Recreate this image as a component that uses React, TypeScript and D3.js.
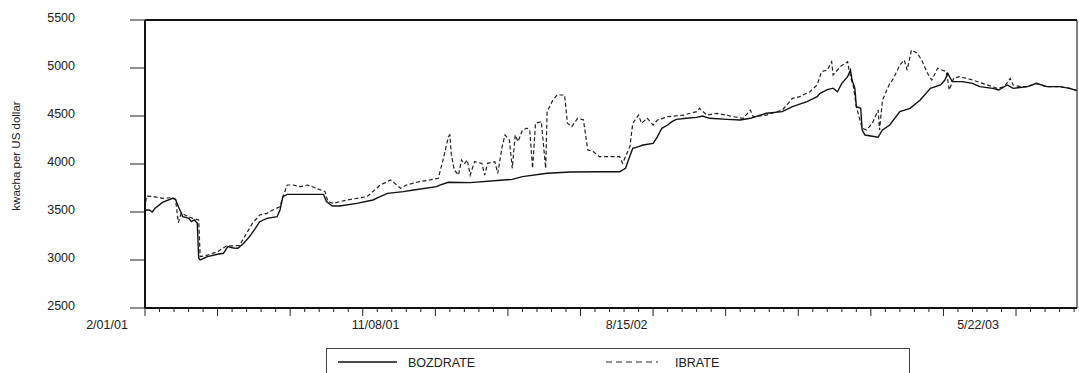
import React from "react";
import * as d3 from "d3";

// ---- data (observation index, value) ----
const bozObs = [0,1,3,5,7,12,19,21,23,25,26,30,32,34,36,37,38,43,50,54,57,61,64,68,72,76,79,84,91,93,95,98,123,125,129,134,146,157,162,167,178,185,201,203,209,224,247,253,260,277,293,313,327,331,333,336,340,343,350,353,356,360,363,366,373,380,384,389,401,410,417,428,439,446,456,463,465,470,474,477,480,484,486,487,489,490,493,494,496,505,508,513,520,527,534,541,548,551,553,556,563,570,575,584,588,594,598,608,614,621,630,637,642];
const bozValues = [3521,3521,3521,3500,3540,3600,3643,3632,3555,3490,3451,3437,3399,3417,3385,3018,3000,3035,3060,3070,3139,3125,3122,3174,3243,3330,3399,3434,3451,3521,3660,3684,3684,3608,3562,3562,3590,3625,3660,3694,3712,3729,3764,3781,3810,3806,3833,3840,3868,3903,3917,3920,3920,3955,4042,4163,4181,4198,4215,4285,4372,4406,4441,4465,4476,4486,4500,4476,4465,4458,4476,4528,4545,4597,4649,4701,4736,4775,4790,4753,4840,4910,4979,4875,4788,4597,4580,4354,4302,4278,4354,4406,4545,4580,4667,4788,4823,4875,4945,4858,4858,4840,4806,4788,4771,4823,4788,4806,4840,4806,4806,4788,4765];

const ibObs = [0,1,6,12,19,21,23,25,30,33,37,38,43,50,56,65,74,79,84,88,93,95,98,102,107,112,118,124,126,130,134,143,153,162,169,172,176,180,189,196,202,205,209,210,211,213,216,218,220,222,224,227,232,234,236,241,243,246,248,251,253,255,257,260,263,265,267,269,273,276,277,281,284,289,291,294,298,302,305,309,313,327,329,334,336,340,342,346,350,353,360,371,380,382,387,394,405,412,417,419,428,439,446,451,458,463,466,470,473,474,479,484,485,486,488,490,494,497,501,505,506,508,513,515,520,523,525,528,532,535,539,542,546,549,552,554,557,561,566,570,577,587,592,596,598,603,608,614,621,630,637,642];
const ibValues = [3540,3667,3660,3643,3650,3632,3390,3490,3450,3434,3417,3035,3050,3087,3146,3150,3382,3469,3486,3521,3555,3660,3781,3781,3764,3781,3747,3712,3608,3590,3608,3635,3660,3780,3833,3799,3747,3781,3816,3833,3851,4024,4285,4302,4100,3938,3885,4042,4000,4042,3885,4024,4007,3885,4007,4024,3903,4181,4302,4250,3955,4302,4233,4354,4372,4354,3955,4424,4441,3955,4545,4667,4719,4719,4424,4389,4476,4460,4146,4128,4076,4076,4007,4181,4424,4510,4424,4476,4406,4458,4493,4510,4545,4580,4510,4528,4493,4476,4562,4493,4510,4562,4684,4701,4753,4823,4962,4979,5066,4927,5014,5066,4979,4910,4806,4597,4372,4354,4424,4562,4354,4667,4840,4875,5031,5083,4979,5187,5153,5083,4945,4875,4997,4979,4962,4771,4892,4910,4892,4875,4840,4788,4806,4892,4823,4806,4806,4840,4806,4806,4788,4765];

const yTicks = [2500, 3000, 3500, 4000, 4500, 5000, 5500];
const xLabels = ["2/01/01", "11/08/01", "8/15/02", "5/22/03"];
const xLabelObs = [0, 185, 358, 600];
const totalObs = 642;
const seriesNames = ["BOZDRATE", "IBRATE"];
const yTitle = "kwacha per US dollar";

export default function App() {
  const W = 1079, H = 373;
  const left = 145, right = 1077, top = 20, bottom = 308;
  const x = d3.scaleLinear().domain([0, totalObs]).range([left, right]);
  const y = d3.scaleLinear().domain([2500, 5500]).range([bottom, top]);
  const line = d3.line<[number, number]>().x(d => x(d[0])).y(d => y(d[1]));
  const bozPts = bozObs.map((o, i) => [o, bozValues[i]] as [number, number]);
  const ibPts = ibObs.map((o, i) => [o, ibValues[i]] as [number, number]);
  const minor = d3.range(0, totalObs + 1, 10);
  const font = "'Liberation Sans', Arial, sans-serif";

  return (
    <svg width={W} height={H} style={{ position: "absolute", left: 0, top: 0, background: "#fff" }} fontFamily={font}>
      <rect x={0} y={0} width={W} height={H} fill="#fff" />
      {/* series */}
      <path d={line(ibPts) || ""} fill="none" stroke="#222" strokeWidth={1.2} strokeDasharray="4,2.5" />
      <path d={line(bozPts) || ""} fill="none" stroke="#111" strokeWidth={1.4} />
      {/* frame */}
      <line x1={left} x2={right} y1={top} y2={top} stroke="#111" strokeWidth={2} />
      <line x1={right} x2={right} y1={top} y2={bottom} stroke="#333" strokeWidth={1.2} />
      <line x1={left} x2={left} y1={top} y2={bottom} stroke="#111" strokeWidth={2} />
      <line x1={left} x2={right} y1={bottom} y2={bottom} stroke="#111" strokeWidth={2} />
      {/* y ticks */}
      {yTicks.map(t => (
        <g key={t}>
          <line x1={left - 15} x2={left} y1={y(t)} y2={y(t)} stroke="#222" strokeWidth={1} />
          <text x={75} y={y(t) + 2} textAnchor="end" fontSize={12.5} fill="#222">{t}</text>
        </g>
      ))}
      {/* x ticks */}
      {minor.map(m => (
        <line key={m} x1={x(m)} x2={x(m)} y1={bottom} y2={bottom + (m % 50 === 0 ? 8 : 4)} stroke="#222" strokeWidth={1} />
      ))}
      {xLabels.map((l, i) => (
        <text key={l} x={x(xLabelObs[i]) - 38} y={329} textAnchor="middle" fontSize={12.5} fill="#222">{l}</text>
      ))}
      {/* y title */}
      <text transform={`translate(20,156) rotate(-90)`} textAnchor="middle" fontSize={11.5} fill="#222">{yTitle}</text>
      {/* legend */}
      <rect x={326.5} y={348.5} width={583} height={40} fill="none" stroke="#444" strokeWidth={1} />
      <line x1={338} x2={397} y1={362} y2={362} stroke="#111" strokeWidth={1.4} />
      <text x={408} y={367} fontSize={12.5} fill="#222">{seriesNames[0]}</text>
      <line x1={606} x2={658} y1={362} y2={362} stroke="#222" strokeWidth={1.2} strokeDasharray="6,4" />
      <text x={675} y={367} fontSize={12.5} fill="#222">{seriesNames[1]}</text>
    </svg>
  );
}
